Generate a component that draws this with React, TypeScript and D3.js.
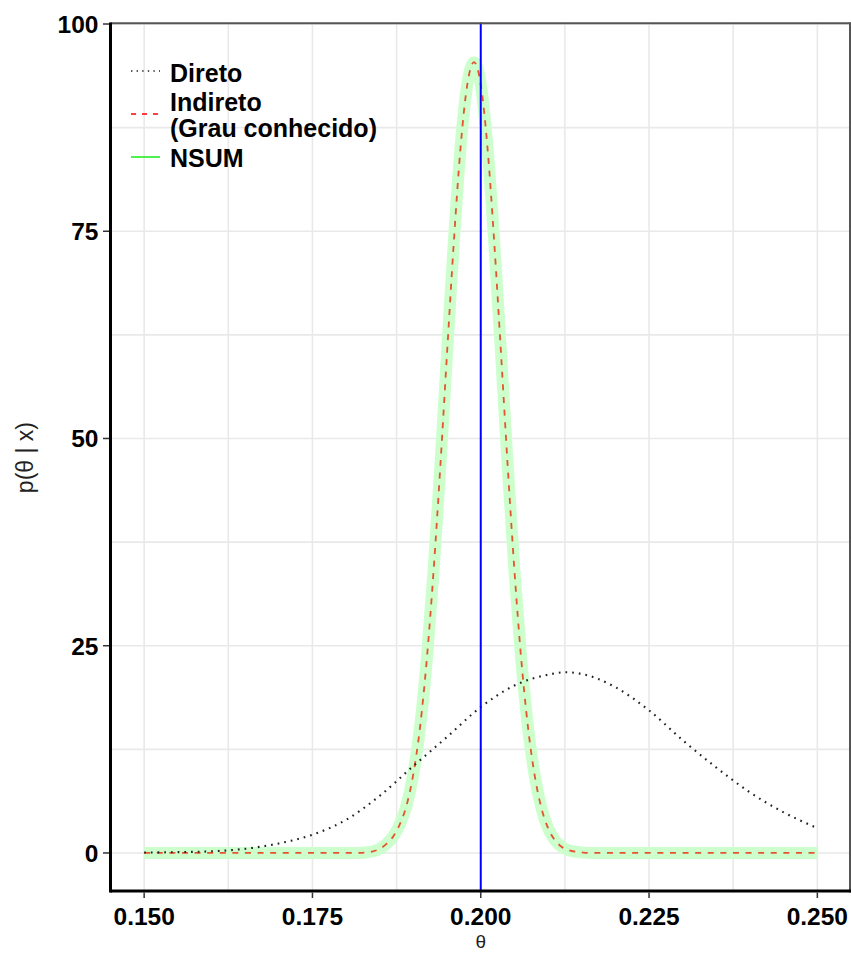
import React from "react";
import * as d3 from "d3";

// ---- data ----
const thetaDireto = [0.150, 0.155, 0.160, 0.165, 0.170, 0.175, 0.180, 0.185, 0.190, 0.195, 0.200, 0.205, 0.210, 0.2125, 0.215, 0.220, 0.225, 0.230, 0.235, 0.240, 0.245, 0.250];
const densDireto = [0.05, 0.1, 0.2, 0.5, 1.15, 2.2, 4.0, 6.9, 10.5, 14.0, 17.6, 20.2, 21.5, 21.8, 21.6, 20.0, 17.2, 13.6, 10.3, 7.3, 4.9, 3.0];

const thetaIndireto = [0.150, 0.160, 0.170, 0.180, 0.182, 0.183, 0.184, 0.185, 0.186, 0.187, 0.188, 0.189, 0.190, 0.191, 0.192, 0.193, 0.194, 0.195, 0.196, 0.197, 0.198, 0.199, 0.200, 0.201, 0.202, 0.203, 0.204, 0.205, 0.206, 0.207, 0.208, 0.209, 0.210, 0.211, 0.212, 0.213, 0.214, 0.215, 0.216, 0.220, 0.230, 0.240, 0.250];
const densIndireto = [0, 0, 0, 0, 0, 0.07, 0.2, 0.5, 1.1, 2.0, 3.5, 5.8, 9.6, 15.3, 23.5, 34.1, 46.7, 60.4, 73.7, 85.1, 92.7, 95.4, 92.7, 85.1, 73.7, 60.4, 46.7, 34.1, 23.5, 15.3, 9.4, 5.45, 3.0, 1.55, 0.75, 0.35, 0.15, 0.06, 0, 0, 0, 0, 0];

const thetaNSUM = [0.150, 0.160, 0.170, 0.180, 0.182, 0.183, 0.184, 0.185, 0.186, 0.187, 0.188, 0.189, 0.190, 0.191, 0.192, 0.193, 0.194, 0.195, 0.196, 0.197, 0.198, 0.199, 0.200, 0.201, 0.202, 0.203, 0.204, 0.205, 0.206, 0.207, 0.208, 0.209, 0.210, 0.211, 0.212, 0.213, 0.214, 0.215, 0.216, 0.220, 0.230, 0.240, 0.250];
const densNSUM = [0, 0, 0, 0, 0, 0.07, 0.2, 0.5, 1.1, 2.0, 3.5, 5.8, 9.6, 15.3, 23.5, 34.1, 46.7, 60.4, 73.7, 85.1, 92.7, 95.4, 92.7, 85.1, 73.7, 60.4, 46.7, 34.1, 23.5, 15.3, 9.4, 5.45, 3.0, 1.55, 0.75, 0.35, 0.15, 0.06, 0, 0, 0, 0, 0];

const trueTheta = 0.2;

const xTicks = [0.15, 0.175, 0.2, 0.225, 0.25];
const xTickLabels = ["0.150", "0.175", "0.200", "0.225", "0.250"];
const xMinor = [0.1625, 0.1875, 0.2125, 0.2375];
const yTicks = [0, 25, 50, 75, 100];
const yTickLabels = ["0", "25", "50", "75", "100"];
const yMinor = [12.5, 37.5, 62.5, 87.5];

const legendLabels = [["Direto"], ["Indireto", "(Grau conhecido)"], ["NSUM"]];

const W = 851;
const H = 954;
const FONT = "'Liberation Sans', Arial, Helvetica, sans-serif";

export default function App() {
  const panel = { left: 110.5, right: 851, top: 22.6, bottom: 892.5 };
  const x = d3.scaleLinear().domain([0.145, 0.255]).range([panel.left, panel.right]);
  const y = d3.scaleLinear().domain([-4.77, 100.17]).range([panel.bottom, panel.top]);

  const line = d3
    .line<[number, number]>()
    .x((d) => x(d[0]))
    .y((d) => y(d[1]))
    .curve(d3.curveMonotoneX);

  const pDireto = line(thetaDireto.map((t, i) => [t, densDireto[i]] as [number, number])) || "";
  const pIndireto = line(thetaIndireto.map((t, i) => [t, densIndireto[i]] as [number, number])) || "";
  const pNSUM = line(thetaNSUM.map((t, i) => [t, densNSUM[i]] as [number, number])) || "";

  const grid = "#e9e9e9";
  const legendY = [71, 114, 157];
  const legendTextY = [[82], [111, 137], [166.5]];

  return (
    <svg
      width={W}
      height={H}
      style={{ position: "absolute", left: 0, top: 0, background: "#fff" }}
      fontFamily={FONT}
    >
      <rect x={0} y={0} width={W} height={H} fill="#fff" />
      {/* grid */}
      <g>
        {xMinor.concat(xTicks).map((v, i) => (
          <line key={"gx" + i} x1={x(v)} x2={x(v)} y1={panel.top} y2={panel.bottom} stroke={grid} strokeWidth={1.6} />
        ))}
        {yMinor.concat(yTicks).map((v, i) => (
          <line key={"gy" + i} x1={panel.left} x2={panel.right} y1={y(v)} y2={y(v)} stroke={grid} strokeWidth={1.6} />
        ))}
      </g>

      {/* curves */}
      <path d={pNSUM} fill="none" stroke="#ccffcc" strokeWidth={12} strokeLinejoin="round" />
      <path d={pIndireto} fill="none" stroke="#e8401f" strokeOpacity={0.9} strokeWidth={1.8} strokeDasharray="6,6.6" strokeLinejoin="round" />
      <path d={pDireto} fill="none" stroke="#222" strokeWidth={2.1} strokeDasharray="1.7,5" strokeLinejoin="round" />

      {/* true value */}
      <line x1={x(trueTheta)} x2={x(trueTheta)} y1={panel.top} y2={panel.bottom} stroke="#0000ff" strokeWidth={2} />

      {/* panel border top/right */}
      <line x1={panel.left} x2={panel.right} y1={23.3} y2={23.3} stroke="#555" strokeWidth={2} />
      <line x1={850} x2={850} y1={panel.top} y2={panel.bottom} stroke="#555" strokeWidth={2} />

      {/* axes */}
      <line x1={panel.left} x2={panel.right} y1={891} y2={891} stroke="#000" strokeWidth={3} />
      <line x1={panel.left} x2={panel.left} y1={panel.top} y2={892.5} stroke="#000" strokeWidth={3} />

      {/* ticks */}
      {xTicks.map((v, i) => (
        <g key={"xt" + i}>
          <line x1={x(v)} x2={x(v)} y1={892.5} y2={898} stroke="#333" strokeWidth={1.5} />
          <text x={x(v)} y={925} textAnchor="middle" fontSize={24.5} fontWeight="bold" fill="#000">
            {xTickLabels[i]}
          </text>
        </g>
      ))}
      {yTicks.map((v, i) => (
        <g key={"yt" + i}>
          <line x1={103} x2={109} y1={y(v)} y2={y(v)} stroke="#333" strokeWidth={1.5} />
          <text x={98.5} y={y(v) + 9} textAnchor="end" fontSize={24.5} fontWeight="bold" fill="#000">
            {yTickLabels[i]}
          </text>
        </g>
      ))}

      {/* axis titles */}
      <text x={x(0.2)} y={948} textAnchor="middle" fontSize={19} fill="#222">
        θ
      </text>
      <text
        transform={`translate(33, ${(panel.top + panel.bottom) / 2}) rotate(-90)`}
        textAnchor="middle"
        fontSize={23}
        fill="#222"
      >
        p(θ | x)
      </text>

      {/* legend */}
      <line x1={131} x2={160} y1={legendY[0]} y2={legendY[0]} stroke="#222" strokeWidth={1.6} strokeDasharray="1.4,4.2" />
      <line x1={131} x2={160} y1={legendY[1]} y2={legendY[1]} stroke="#ff0000" strokeWidth={1.6} strokeDasharray="5,6" />
      <line x1={131} x2={160} y1={legendY[2]} y2={legendY[2]} stroke="#22ee22" strokeWidth={1.6} />
      {legendLabels.map((lines, i) =>
        lines.map((s, j) => (
          <text key={"lg" + i + "_" + j} x={170} y={legendTextY[i][j]} fontSize={25} fontWeight="bold" fill="#000">
            {s}
          </text>
        ))
      )}
    </svg>
  );
}
